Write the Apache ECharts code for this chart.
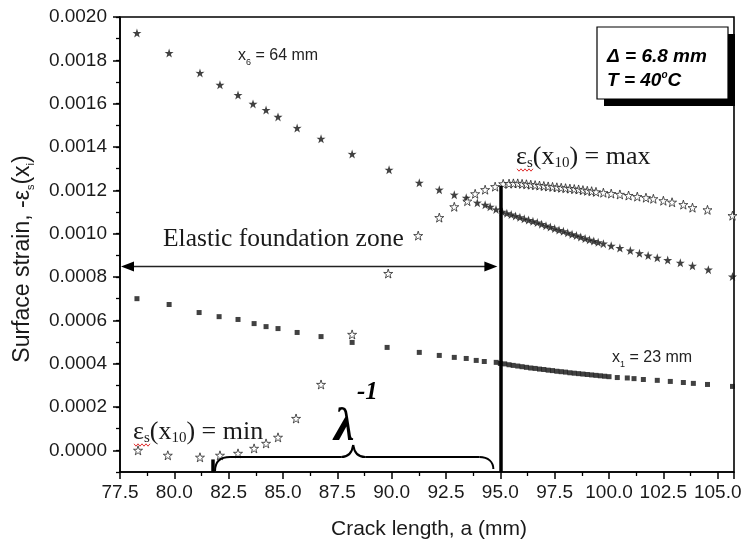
<!DOCTYPE html>
<html><head><meta charset="utf-8">
<script src="https://cdn.jsdelivr.net/npm/echarts@6/dist/echarts.min.js"></script>
<style>html,body{margin:0;padding:0;background:#fff}#c{width:741px;height:545px}</style>
</head><body><div id="c"></div>
<script>
// ---- data ----
// x6 = 64 mm (filled stars): [crack length a (mm), -eps_s]
const x6Data = [
 [78.28,0.001926],[79.76,0.001834],[81.18,0.001742],[82.10,0.001687],[82.93,0.001640],
 [83.62,0.001599],[84.22,0.001571],[84.77,0.001539],[85.65,0.001488],[86.75,0.001438],
 [88.18,0.001368],[89.88,0.001295],[91.27,0.001235],[92.19,0.001203],[92.88,0.001180],
 [93.43,0.001166],[93.94,0.001143],[94.30,0.001133],[94.53,0.001124],[94.80,0.001112],
 [95.09,0.001101],[95.3,0.001094],[95.5,0.001088],[95.7,0.001082],[95.9,0.001076],
 [96.1,0.001069],[96.3,0.001063],[96.5,0.001057],[96.7,0.001051],[96.9,0.001044],
 [97.1,0.001037],[97.3,0.001031],[97.5,0.001024],[97.7,0.001017],[97.9,0.001011],
 [98.1,0.001004],[98.3,0.000997],[98.5,0.000991],[98.7,0.000985],[98.9,0.000978],
 [99.1,0.000972],[99.3,0.000966],[99.5,0.000960],[99.74,0.000954],[100.1,0.000944],
 [100.5,0.000934],[100.98,0.000922],[101.4,0.000910],[101.8,0.000899],[102.22,0.000889],
 [102.7,0.000878],[103.28,0.000866],[103.84,0.000852],[104.57,0.000834],[105.68,0.000802]
];
// x10 (hollow stars)
const x10Data = [
 [78.33,0.000000],[79.70,-0.000023],[81.18,-0.000032],[82.10,-0.000023],[82.93,-0.000014],
 [83.67,0.000009],[84.22,0.000032],[84.77,0.000060],[85.60,0.000147],[86.75,0.000304],
 [88.18,0.000535],[89.84,0.000816],[91.22,0.000991],[92.19,0.001074],[92.88,0.001124],
 [93.48,0.001150],[93.84,0.001184],[94.30,0.001203],[94.76,0.001217],[95.13,0.001230],
 [95.4,0.001231],[95.6,0.001232],[95.8,0.001232],[96.0,0.001230],[96.2,0.001228],
 [96.4,0.001226],[96.6,0.001224],[96.8,0.001222],[97.0,0.001220],[97.2,0.001218],
 [97.4,0.001216],[97.6,0.001214],[97.8,0.001212],[98.0,0.001210],[98.2,0.001208],
 [98.4,0.001206],[98.6,0.001204],[98.8,0.001201],[99.0,0.001198],[99.2,0.001196],
 [99.4,0.001193],[99.74,0.001189],[100.1,0.001185],[100.5,0.001181],[100.9,0.001176],
 [101.3,0.001171],[101.7,0.001166],[102.04,0.001161],[102.5,0.001152],[102.9,0.001145],
 [103.42,0.001134],[103.84,0.001120],[104.53,0.001110],[105.68,0.001083]
];
// x1 = 23 mm (squares)
const x1Data = [
 [78.28,0.000700],[79.76,0.000673],[81.14,0.000636],[82.06,0.000617],[82.93,0.000604],
 [83.67,0.000585],[84.22,0.000571],[84.77,0.000562],[85.65,0.000544],[86.75,0.000525],
 [88.18,0.000498],[89.79,0.000475],[91.27,0.000452],[92.19,0.000438],[92.88,0.000429],
 [93.43,0.000424],[93.89,0.000415],[94.26,0.000410],[94.81,0.000406],[95.0,0.000401],
 [95.2,0.000399],[95.4,0.000395],[95.59,0.000392],[95.8,0.000389],[96.0,0.000386],
 [96.2,0.000383],[96.4,0.000380],[96.6,0.000378],[96.8,0.000375],[97.0,0.000373],
 [97.2,0.000370],[97.4,0.000368],[97.6,0.000365],[97.8,0.000363],[98.0,0.000361],
 [98.2,0.000358],[98.4,0.000356],[98.6,0.000354],[98.8,0.000352],[99.0,0.000350],
 [99.2,0.000348],[99.4,0.000346],[99.6,0.000344],[99.8,0.000342],[100.0,0.000340],
 [100.38,0.000336],[100.84,0.000334],[101.15,0.000331],[101.58,0.000327],[102.22,0.000323],
 [102.82,0.000318],[103.42,0.000313],[103.88,0.000309],[104.53,0.000304],[105.68,0.000295]
];
const yMajorTicks = [0,0.0002,0.0004,0.0006,0.0008,0.0010,0.0012,0.0014,0.0016,0.0018,0.0020];
const crackTip = 95.0;          // vertical line position (mm)
const crackTipTop = 0.001221;   // top of vertical line
const braceStart = 81.78;       // left end of lambda^-1 brace
const arrowLevel = 0.000848;    // level of the elastic zone arrow

const STAR = 'path://M50,0 L61.8,35.1 L98.1,34.5 L69,56.2 L79.4,90.5 L50,70 L20.6,90.5 L31,56.2 L1.9,34.5 L38.2,35.1 Z';
const AR = 'Arial, "Liberation Sans", sans-serif';
const TI = '"Times New Roman", "Liberation Serif", serif';

const chart = echarts.init(document.getElementById('c'));
chart.setOption({
  animation: false,
  backgroundColor: '#fff',
  grid: {left:120, right:7, top:17, bottom:73, show:true, borderColor:'#000', borderWidth:1.6, outerBoundsMode:'none'},
  xAxis: {
    type:'value', min:77.5, max:105.75, interval:2.5,
    axisLine:{show:true, onZero:false, lineStyle:{color:'#000', width:1.5}},
    axisTick:{show:true, length:7, lineStyle:{color:'#000', width:1.5}},
    minorTick:{show:true, splitNumber:2, length:4, lineStyle:{color:'#000', width:1.3}},
    axisLabel:{formatter:v=>v.toFixed(1), fontSize:19, fontFamily:AR, color:'#1a1a1a', margin:11, showMaxLabel:false},
    splitLine:{show:false}
  },
  yAxis: [{
    type:'value', min:-0.0001, max:0.0020, interval:0.0001,
    axisLine:{show:true, onZero:false, lineStyle:{color:'#000', width:1.5}},
    axisTick:{show:true, length:4, lineStyle:{color:'#000', width:1.3}},
    axisLabel:{formatter:v=>(Math.round(v*1e4)%2===0 ? v.toFixed(4) : ''), fontSize:19, fontFamily:AR, color:'#1a1a1a', margin:13},
    splitLine:{show:false}
  },{
    type:'value', min:-0.0001, max:0.0020, position:'left',
    axisLine:{show:false},
    axisTick:{show:true, length:7, customValues:yMajorTicks, lineStyle:{color:'#000', width:1.5}},
    axisLabel:{show:false},
    splitLine:{show:false}
  }],
  series: [
    {type:'scatter', name:'x6', data:x6Data, symbol:STAR, symbolSize:9, itemStyle:{color:'#111'}},
    {type:'scatter', name:'x10', data:x10Data, symbol:STAR, symbolSize:9, itemStyle:{color:'#fff', borderColor:'#111', borderWidth:0.9}},
    {type:'scatter', name:'x1', data:x1Data, symbol:'rect', symbolSize:5, itemStyle:{color:'#111'},
     markLine:{silent:true, symbol:'none', label:{show:false},
       data:[
         [{coord:[crackTip,-0.0001]},{coord:[crackTip,crackTipTop]}],
         [{coord:[braceStart,-0.0001]},{coord:[braceStart,-0.000042]}]
       ],
       lineStyle:{color:'#000', width:3.5, type:'solid'}}}
  ]
});

const p = (a, v) => chart.convertToPixel({xAxisIndex:0, yAxisIndex:0}, [a, v]);
const L = p(77.5, arrowLevel), R = p(crackTip, arrowLevel);
const b0 = p(braceStart, -0.0001), b1 = p(crackTip, -0.0001);
const bx0 = b0[0] + 2, bx1 = b1[0] - 7, by = b0[1] - 15, bm = (bx0 + bx1) / 2 - 1;
const bs = {stroke:'#000', lineWidth:2, fill:null};
const bz = (x1,y1,c1x,c1y,c2x,c2y,x2,y2) => ({type:'bezierCurve', z:5, style:bs,
  shape:{x1:x1, y1:y1, cpx1:c1x, cpy1:c1y, cpx2:c2x, cpy2:c2y, x2:x2, y2:y2}});
const ln = (x1,y1,x2,y2) => ({type:'line', z:5, style:bs, shape:{x1:x1, y1:y1, x2:x2, y2:y2}});
const wavy = (x, y, w) => {
  const pts = [];
  for (let i = 0; i <= w; i += 2) pts.push([x + i, y + ((i / 2) % 2 ? 1.2 : -1.2)]);
  return {type:'polyline', z:6, shape:{points:pts}, style:{stroke:'#e03030', lineWidth:1, fill:null}};
};

const sub = (fs) => ({fontSize:fs, fontFamily:TI, lineHeight:fs, verticalAlign:'bottom', fill:'#1a1a1a'});
chart.setOption({
  graphic: [
    // parameter box with shadow
    {type:'rect', shape:{x:604, y:34, width:131, height:72}, style:{fill:'#000'}, z:10},
    {type:'rect', shape:{x:597, y:27, width:131, height:72}, style:{fill:'#fff', stroke:'#000', lineWidth:1.2}, z:11},
    {type:'text', x:607, y:57, z:12, style:{text:'Δ = 6.8 mm', font:'italic bold 19px '+AR, fill:'#000', verticalAlign:'middle'}},
    {type:'text', x:607, y:81, z:12, style:{text:'{t|T = 40}{o|o}{t|C}', verticalAlign:'middle',
      rich:{t:{font:'italic bold 19px '+AR, fill:'#000', lineHeight:22}, o:{font:'italic bold 10px '+AR, fill:'#000', lineHeight:10, verticalAlign:'top'}}}},
    // elastic foundation zone arrow
    {type:'line', shape:{x1:L[0]+8, y1:L[1], x2:R[0]-8, y2:R[1]}, style:{stroke:'#222', lineWidth:1.5}, z:5},
    {type:'polygon', shape:{points:[[L[0]+1,L[1]],[L[0]+14,L[1]-5],[L[0]+14,L[1]+5]]}, style:{fill:'#000'}, z:5},
    {type:'polygon', shape:{points:[[R[0]-3,R[1]],[R[0]-16,R[1]-5],[R[0]-16,R[1]+5]]}, style:{fill:'#000'}, z:5},
    {type:'text', x:163, y:239, z:5, style:{text:'Elastic foundation zone', font:'25.5px '+TI, fill:'#1a1a1a', verticalAlign:'middle'}},
    // brace
    bz(bx0, b0[1]-1, bx0, by+5, bx0+4, by, bx0+15, by),
    ln(bx0+15, by, bm-12, by),
    bz(bm-12, by, bm-5, by, bm-1, by-5, bm, by-12),
    bz(bm, by-12, bm+1, by-5, bm+5, by, bm+12, by),
    ln(bm+12, by, bx1-14, by),
    bz(bx1-14, by, bx1-5, by, bx1, by+5, bx1, b1[1]-3),
    {type:'text', x:334, y:428, z:5, style:{text:'λ', font:'italic bold 46px '+TI, fill:'#000', verticalAlign:'middle'}},
    {type:'text', x:357, y:393, z:5, style:{text:'-1', font:'italic bold 25px '+TI, fill:'#000', verticalAlign:'middle'}},
    // eps max / min
    {type:'text', x:516, y:157, z:5, style:{text:'{e|ε}{s|s}{e|(x}{s|10}{e|) = max}', verticalAlign:'middle',
      rich:{e:{fontSize:26, fontFamily:TI, lineHeight:27, fill:'#1a1a1a'}, s:sub(15)}}},
    wavy(517, 170, 16),
    {type:'text', x:133, y:432, z:5, style:{text:'{e|ε}{s|s}{e|(x}{s|10}{e|) = min}', verticalAlign:'middle',
      rich:{e:{fontSize:26, fontFamily:TI, lineHeight:27, fill:'#1a1a1a'}, s:sub(15)}}},
    wavy(134, 445, 16),
    // series captions
    {type:'text', x:238, y:56, z:5, style:{text:'{a|x}{b|6}{a| = 64 mm}', verticalAlign:'middle',
      rich:{a:{fontSize:16, fontFamily:AR, lineHeight:22, fill:'#222'}, b:{fontSize:9, fontFamily:AR, lineHeight:9, verticalAlign:'bottom', fill:'#222'}}}},
    {type:'text', x:612, y:358, z:5, style:{text:'{a|x}{b|1}{a| = 23 mm}', verticalAlign:'middle',
      rich:{a:{fontSize:16, fontFamily:AR, lineHeight:22, fill:'#222'}, b:{fontSize:9, fontFamily:AR, lineHeight:9, verticalAlign:'bottom', fill:'#222'}}}},
    // axis names
    {type:'text', x:429, y:529, z:5, style:{text:'Crack length, a (mm)', font:'21px '+AR, fill:'#1a1a1a', align:'center', verticalAlign:'middle'}},
    {type:'text', x:23, y:259, rotation:Math.PI/2, z:5, style:{text:'{a|Surface strain, -ε}{s|s}{a|(x}{s|i}{a|)}', align:'center', verticalAlign:'middle',
      rich:{a:{fontSize:23, fontFamily:AR, lineHeight:27, fill:'#1a1a1a'}, s:{fontSize:11, fontFamily:AR, lineHeight:11, verticalAlign:'bottom', fill:'#1a1a1a'}}}}
  ]
});
</script></body></html>
